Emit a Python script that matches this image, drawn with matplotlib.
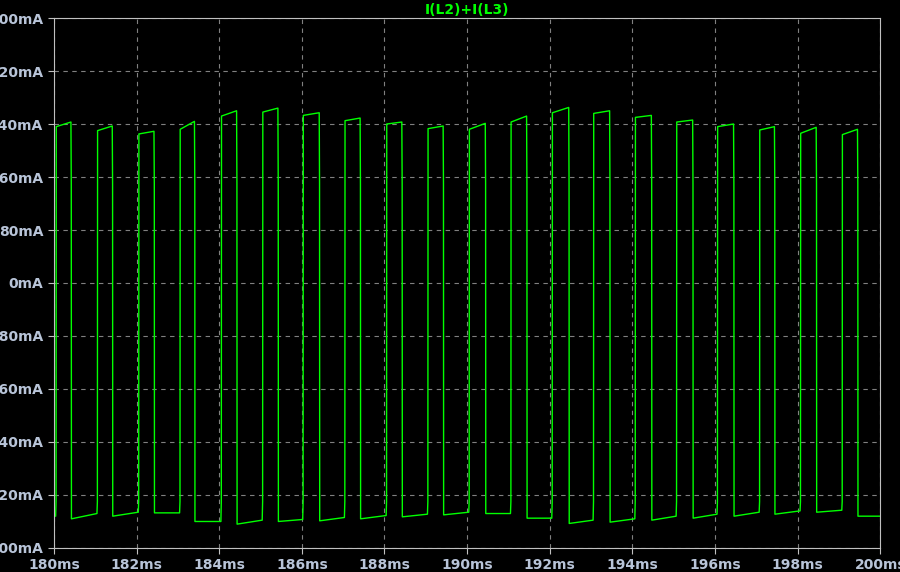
import numpy as np
import matplotlib.pyplot as plt
from matplotlib.ticker import FuncFormatter

# pulse edges (ms) and levels (mA)
rise_t = [180.05, 181.05, 182.05, 183.05, 184.05, 185.05, 186.03, 187.04, 188.05, 189.05,
          190.05, 191.06, 192.06, 193.06, 194.07, 195.07, 196.06, 197.08, 198.07, 199.08]
fall_t = [180.41, 181.41, 182.42, 183.40, 184.42, 185.42, 186.42, 187.41, 188.42, 189.42,
          190.44, 191.44, 192.46, 193.45, 194.46, 195.46, 196.45, 197.44, 198.45, 199.45]
high_start = [236, 230, 225, 232, 252, 258, 253, 245, 240, 233, 232, 243, 257, 256, 250, 243, 236, 231, 226, 224]
high_end   = [243, 237, 229, 244, 260, 264, 257, 249, 243, 237, 241, 252, 265, 260, 253, 246, 240, 236, 235, 232]
initial_low = -352
# low level after each pulse: start and end (before next rise / at 200 ms)
low_start = [-356, -352, -347, -360, -364, -360, -359, -356, -353, -350, -348, -355, -363, -361, -358, -355, -352, -349, -346, -352]
low_end   = [-348, -346, -347, -360, -358, -357, -354, -351, -349, -346, -348, -355, -358, -356, -352, -349, -346, -344, -343, -352]

t = [180.0]
v = [initial_low]
prev_low = initial_low
for i in range(len(rise_t)):
    t += [rise_t[i] - 0.01, rise_t[i], rise_t[i] + 0.005]
    v += [prev_low, -330, high_start[i]]
    t += [fall_t[i], fall_t[i] + 0.008, fall_t[i] + 0.012]
    v += [high_end[i], 150, low_start[i]]
    prev_low = low_end[i]
t.append(200.0)
v.append(low_end[-1])

green = '#00ff00'
fig = plt.figure(figsize=(9, 5.72), dpi=100, facecolor='black')
ax = fig.add_axes([0.06, 0.042, 0.918, 0.9265], facecolor='black')
ax.plot(t, v, color=green, lw=1)
ax.set_xlim(180, 200)
ax.set_ylim(-400, 400)
ax.set_xticks(np.arange(180, 201, 2))
ax.set_yticks(np.arange(-400, 401, 80))
ax.xaxis.set_major_formatter(FuncFormatter(lambda x, p: f'{x:.0f}ms'))
ax.yaxis.set_major_formatter(FuncFormatter(lambda y, p: f'{y:.0f}mA'))
ax.grid(True, color='#808080', ls=(0, (4, 4)), lw=0.8)
for s in ax.spines.values():
    s.set_color('#c0c0c0')
ax.tick_params(colors='#c0c0c0', labelcolor='#b8c4d8', labelsize=10, length=4)
for lab in ax.get_xticklabels() + ax.get_yticklabels():
    lab.set_fontweight('bold')
ax.set_title('I(L2)+I(L3)', color=green, fontsize=10, fontweight='bold', pad=3)
fig.savefig('out.png', facecolor='black')
